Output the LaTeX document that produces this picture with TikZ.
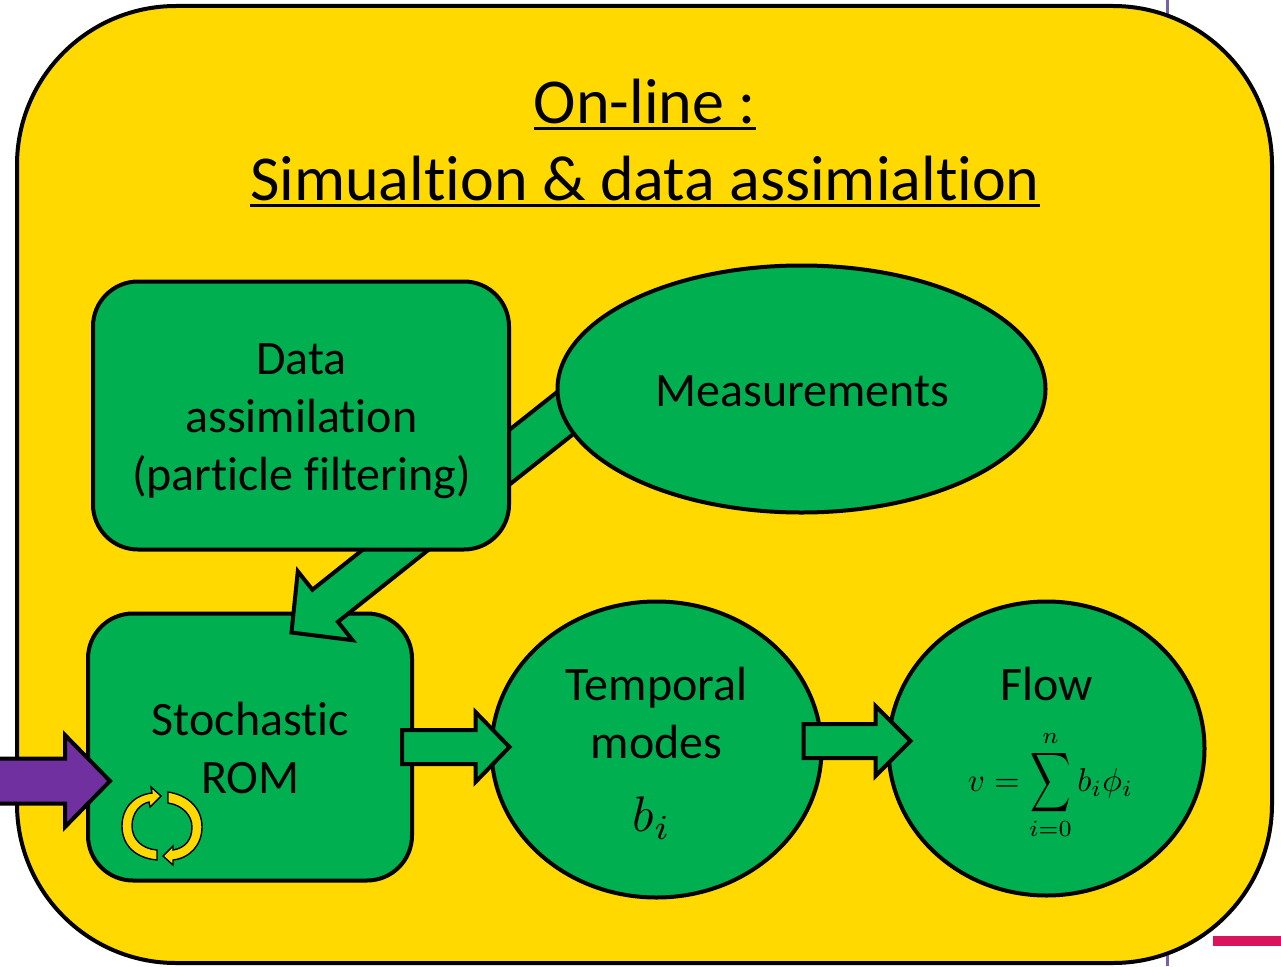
\documentclass[tikz,border=0pt]{standalone}
\usepackage{fontspec}
\setmainfont[RawFeature={-liga;-clig}]{Carlito}
\usetikzlibrary{calc,shapes.geometric}
\definecolor{panelyellow}{HTML}{FFD900}
\definecolor{boxgreen}{HTML}{00B050}
\definecolor{inpurple}{HTML}{7030A0}
\definecolor{sideline}{HTML}{7B5EA7}
\definecolor{sidecrimson}{HTML}{D9145C}
\newcommand{\thickul}[1]{\setbox0\hbox{#1}\copy0\llap{\rule[-7pt]{\wd0}{3.2pt}}}
\newcommand{\tallsum}{\mathop{\vcenter{\hbox{\scalebox{0.85}[1.26]{$\displaystyle\sum$}}}}\limits}
\tikzset{
  x=1pt,y=-1pt,
  panel/.style={draw=black,line width=4pt,fill=panelyellow,rounded corners=159pt,
    minimum width=1255pt,minimum height=957pt,inner sep=0pt},
  greenbox/.style={draw=black,line width=4pt,fill=boxgreen,rounded corners=45pt,inner sep=0pt},
  greenoval/.style={draw=black,line width=4pt,fill=boxgreen,ellipse,inner sep=0pt},
  labeltext/.style={inner sep=0pt,align=center,font=\fontsize{48}{58}\selectfont},
  titletext/.style={align=center,inner sep=0pt,font=\fontsize{64}{77}\selectfont},
  blockarrow/.style n args={3}{draw=black,line width=4pt,miter limit=8,
    to path={let \p1=(\tikztostart),\p2=(\tikztotarget),
      \n1={atan2(\y2-\y1,\x2-\x1)},\n2={veclen(\x2-\x1,\y2-\y1)-#3} in
      -- ++(\n1+90:#1) -- ++(\n1:\n2) -- ++(\n1+90:#2-#1)
      -- (\p2) -- ($(\p1)+(\n1:\n2)+(\n1-90:#2)$) -- ++(\n1+90:#2-#1)
      -- ($(\p1)+(\n1-90:#1)$) -- cycle}},
  cyclearrow/.style={draw=black,line width=1.4pt,fill=panelyellow,line join=miter}
}
\begin{document}
\begin{tikzpicture}
\useasboundingbox (0,0) rectangle (1281,966);
\coordinate (guidetop) at (1167,0);
\coordinate (guidebottom) at (1167,966);
\draw[sideline,line width=3pt] (guidetop) -- (guidebottom);
\fill[sidecrimson] (1213,936) rectangle (1281,945.5);

\node[panel] (panel) at (644.5,484.5) {};
\node[titletext] (title) at (645,143) {\thickul{On-line :}\\\thickul{Simualtion \& data assimialtion}};

% shapes that the first arrow runs between
\coordinate (datacentre) at (301,415.5);
\coordinate (datasouth) at (301.5,550);
\coordinate (measwest) at (557,389);

% measurements to data assimilation (its head lies under the box)
\path[fill=boxgreen,blockarrow={21.5pt}{45pt}{43pt}]
  ([shift={(31,6)}]measwest) to ([shift={(131,103)}]datacentre);
\node[greenoval,minimum width=488pt,minimum height=247pt] (meas) at (801.5,389) {};
\node[labeltext] (meastext) at (802.5,391) {Measurements};

% stochastic ROM
\node[greenbox,minimum width=324pt,minimum height=267pt] (rom) at (250,747) {};
\node[labeltext] (romtext) at (250.5,748) {Stochastic\\ROM};

% data assimilation to ROM
\path[fill=boxgreen,blockarrow={20.5pt}{44pt}{43pt}]
  ([shift={(119,-20)}]datasouth) to ([shift={(41.5,21)}]rom.north);

% data assimilation
\node[greenbox,minimum width=416pt,minimum height=268pt] (data) at (datacentre) {};
\node[labeltext] (datatext) at (301.5,421.5) {Data\\assimilation\\(particle filtering)};

% temporal modes and flow
\node[greenoval,minimum width=330pt,minimum height=296pt] (temporal) at (656.5,749.5) {};
\node[labeltext] (temporaltext) at (656.5,713) {Temporal\\modes};
\node[inner sep=0pt] (bi) at (652,818) {\scalebox{5}{$b_i$}};
\node[greenoval,minimum width=316pt,minimum height=294pt] (flow) at (1046.5,748.5) {};
\node[labeltext] (flowtext) at (1046.5,684) {Flow};
\node[inner sep=0pt] (formula) at (1050.5,785) {\scalebox{3.3}{$\displaystyle v=\tallsum_{i=0}^{n} b_i\phi_i$}};

% block arrows between the nodes
\path[fill=boxgreen,blockarrow={17pt}{35pt}{34pt}]
  ([shift={(-12,0)}]rom.east |- 0,747) to ([shift={(20,-2.5)}]temporal.west);
\path[fill=boxgreen,blockarrow={17pt}{35pt}{35pt}]
  ([shift={(-20,-8.5)}]temporal.east) to ([shift={(24,-7.5)}]flow.west);

% incoming purple arrow
\coordinate (instart) at (-6,781);
\path[fill=inpurple,blockarrow={22.5pt}{46pt}{45pt}]
  (instart) to ([shift={(24,0)}]rom.west |- instart);

% cycle icon
\path[cyclearrow] (157,860) .. controls (135,858) and (122,845) .. (122,826)
  .. controls (122,808) and (134,795) .. (152,793) -- (151,787) -- (161,796) -- (150,807) -- (149,802)
  .. controls (140,804) and (132,813) .. (132,826)
  .. controls (132,839) and (142,849) .. (157,850) -- cycle;
\path[cyclearrow] (168,792) .. controls (188,795) and (202,808) .. (202,827)
  .. controls (202,845) and (190,858) .. (173,860) -- (173,865) -- (163,856) -- (173,846) -- (173,850)
  .. controls (185,848) and (192,840) .. (192,827)
  .. controls (192,815) and (182,805) .. (168,803) -- cycle;
\end{tikzpicture}
\end{document}
